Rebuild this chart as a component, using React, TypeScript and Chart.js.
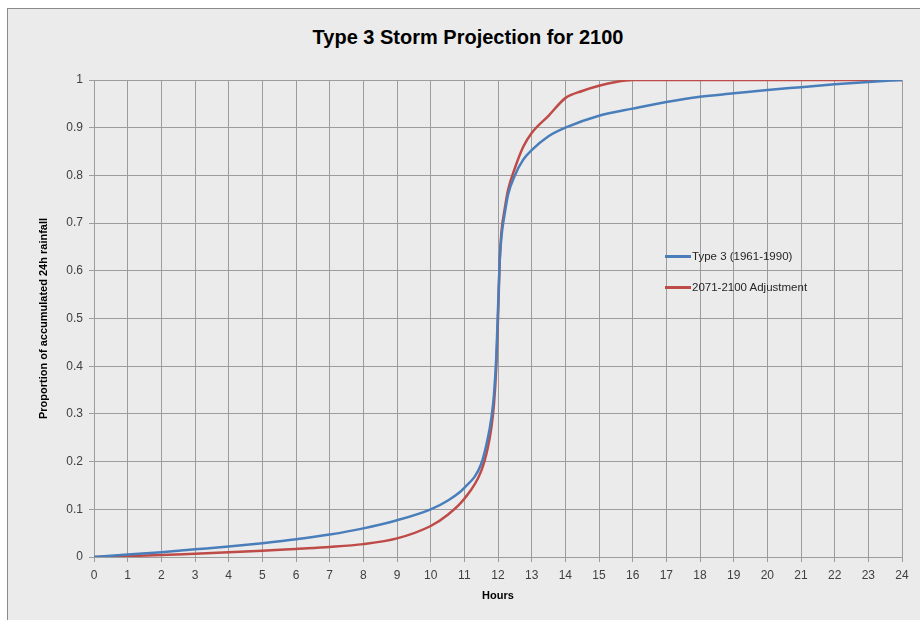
import React, { useEffect, useRef } from "react";
import { Chart, registerables } from "chart.js";

Chart.register(...registerables);

const chartTitle = "Type 3 Storm Projection for 2100";
const xAxisTitle = "Hours";
const yAxisTitle = "Proportion of accumulated 24h rainfall";
const seriesNames = ["Type 3 (1961-1990)", "2071-2100 Adjustment"];
const seriesColors = ["#4a7ebb", "#be4b48"];

const type3Hours = [0, 1, 2, 3, 4, 5, 6, 7, 8, 9, 10, 10.5, 11, 11.5, 11.7, 11.8, 11.88, 11.95, 12, 12.05, 12.1, 12.2, 12.3, 12.5, 12.75, 13, 13.5, 14, 15, 16, 17, 18, 19, 20, 21, 22, 23, 24];
const type3Values = [0, 0.005, 0.01, 0.016, 0.022, 0.029, 0.037, 0.047, 0.06, 0.077, 0.1, 0.118, 0.145, 0.195, 0.25, 0.29, 0.34, 0.42, 0.52, 0.62, 0.67, 0.72, 0.76, 0.8, 0.833, 0.853, 0.882, 0.9, 0.925, 0.94, 0.954, 0.965, 0.972, 0.979, 0.985, 0.991, 0.996, 1];

const adjHours = [0, 1, 2, 3, 4, 5, 6, 7, 8, 9, 10, 10.5, 11, 11.5, 11.7, 11.8, 11.88, 11.95, 12, 12.05, 12.1, 12.2, 12.3, 12.5, 12.75, 13, 13.5, 14, 14.5, 15, 15.5, 16, 17, 18, 19, 20, 21, 22, 23, 24];
const adjValues = [0, 0.002, 0.004, 0.007, 0.01, 0.013, 0.017, 0.021, 0.027, 0.039, 0.065, 0.088, 0.122, 0.18, 0.23, 0.27, 0.32, 0.4, 0.5, 0.62, 0.68, 0.73, 0.77, 0.815, 0.86, 0.889, 0.925, 0.962, 0.977, 0.988, 0.996, 1, 1, 1, 1, 1, 1, 1, 1, 1];

const FONT = "'Liberation Sans', Arial, sans-serif";

export default function App() {
  const ref = useRef<HTMLCanvasElement | null>(null);

  useEffect(() => {
    if (!ref.current) return;
    const toPts = (xs: number[], ys: number[]) => xs.map((x, i) => ({ x, y: ys[i] }));
    const chart = new Chart(ref.current, {
      type: "line",
      data: {
        datasets: [
          {
            label: seriesNames[0],
            data: toPts(type3Hours, type3Values),
            borderColor: seriesColors[0],
            backgroundColor: seriesColors[0],
            borderWidth: 2.5,
            pointRadius: 0,
            cubicInterpolationMode: "monotone",
          },
          {
            label: seriesNames[1],
            data: toPts(adjHours, adjValues),
            borderColor: seriesColors[1],
            backgroundColor: seriesColors[1],
            borderWidth: 2.5,
            pointRadius: 0,
            cubicInterpolationMode: "monotone",
          },
        ],
      },
      options: {
        responsive: false,
        animation: false,
        layout: { padding: { left: 0, right: 18, top: 80, bottom: 0 } },
        plugins: {
          legend: { display: false },
          tooltip: { enabled: false },
          title: { display: false },
        },
        scales: {
          x: {
            type: "linear",
            min: 0,
            max: 24,
            afterFit: (s: any) => {
              s.height = 63;
            },
            ticks: { stepSize: 1, color: "#404040", font: { family: FONT, size: 12 }, padding: 6, maxRotation: 0 },
            grid: { color: "#9c9c9c", lineWidth: 1, tickLength: 5, drawTicks: true },
            border: { color: "#9c9c9c" },
            title: {
              display: true,
              text: xAxisTitle,
              color: "#000000",
              font: { family: FONT, size: 11, weight: "bold" },
              padding: { top: 0, bottom: 17 },
            },
          },
          y: {
            type: "linear",
            min: 0,
            max: 1,
            afterFit: (s: any) => {
              s.width = 94;
            },
            ticks: {
              stepSize: 0.1,
              color: "#404040",
              font: { family: FONT, size: 12 },
              padding: 6,
              callback: (v: any) => String(Number(Number(v).toFixed(1))),
            },
            grid: { color: "#9c9c9c", lineWidth: 1, tickLength: 5, drawTicks: true },
            border: { color: "#9c9c9c" },
            title: {
              display: true,
              text: yAxisTitle,
              color: "#000000",
              font: { family: FONT, size: 11, weight: "bold" },
              padding: { top: 37, bottom: 0 },
            },
          },
        },
      },
    });
    return () => chart.destroy();
  }, []);

  const legendItem = (i: number, top: number) => (
    <div
      key={i}
      style={{
        position: "absolute",
        left: 665,
        top: top - 8,
        height: 16,
        display: "flex",
        alignItems: "center",
        fontFamily: FONT,
        fontSize: 11.5,
        color: "#262626",
        whiteSpace: "nowrap",
      }}
    >
      <span style={{ display: "inline-block", width: 26, height: 3, background: seriesColors[i], marginRight: 1 }} />
      <span>{seriesNames[i]}</span>
    </div>
  );

  return (
    <div style={{ position: "fixed", left: 0, top: 0, width: 920, height: 620, background: "#ffffff", overflow: "hidden" }}>
      <div
        style={{
          position: "absolute",
          left: 7,
          top: 8,
          width: 913,
          height: 612,
          boxSizing: "border-box",
          borderLeft: "1px solid #8a8a8a",
          borderTop: "1px solid #8a8a8a",
          background: "#ebebeb",
        }}
      />
      <div
        style={{
          position: "absolute",
          left: 0,
          top: 25,
          width: 936,
          textAlign: "center",
          fontFamily: FONT,
          fontSize: 20,
          fontWeight: "bold",
          lineHeight: "24px",
          color: "#000000",
        }}
      >
        {chartTitle}
      </div>
      <canvas ref={ref} width={920} height={620} style={{ position: "absolute", left: 0, top: 0, width: 920, height: 620 }} />
      {legendItem(0, 256)}
      {legendItem(1, 287)}
    </div>
  );
}
